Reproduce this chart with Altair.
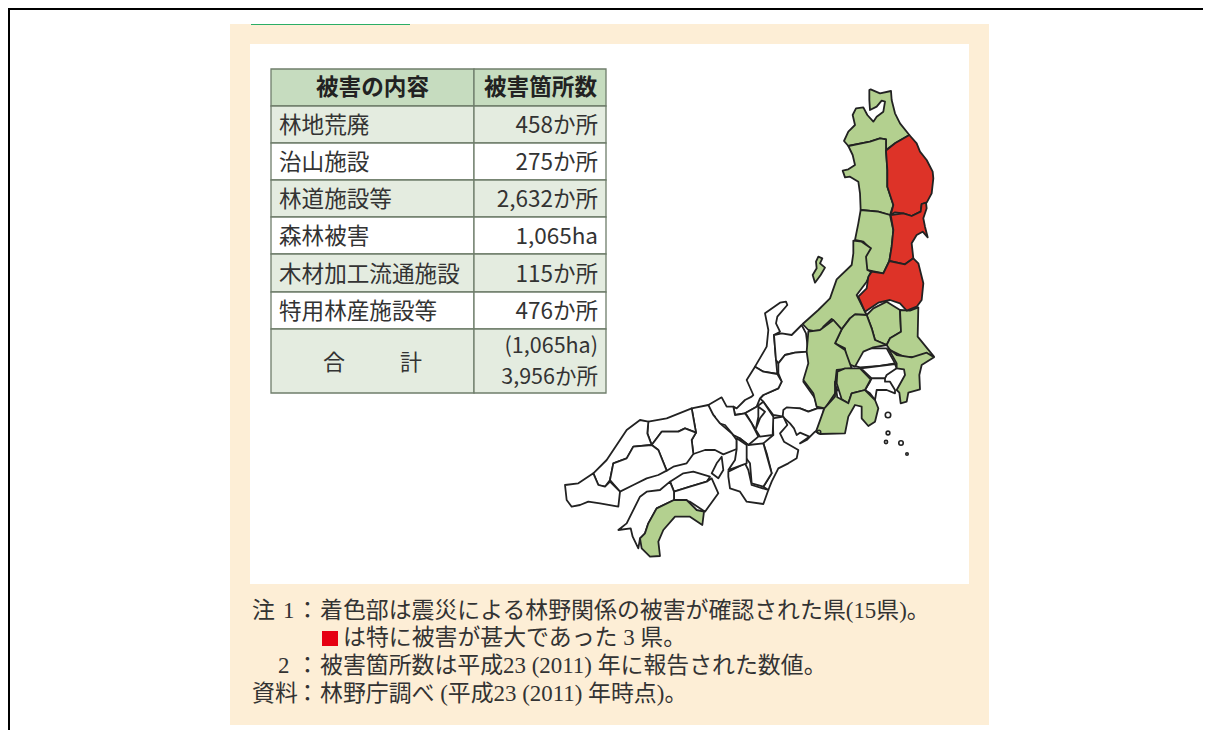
import altair as alt
import pandas as pd

W, H = 1195, 722
OFF = 8

# ---- table ----
header = ["被害の内容", "被害箇所数"]
items = ["林地荒廃", "治山施設", "林道施設等", "森林被害", "木材加工流通施設", "特用林産施設等"]
amounts = ["458か所", "275か所", "2,632か所", "1,065ha", "115か所", "476か所"]
total_label = ["合", "計"]
total_values = ["(1,065ha)", "3,956か所"]
row_edges = [69, 106, 143, 180, 217, 254, 292, 329, 393]
col_edges = [271, 474, 606]
row_fill = ["#c6dcbf", "#e4ece0", "#ffffff", "#e4ece0", "#ffffff", "#e4ece0", "#ffffff", "#e4ece0"]

# ---- notes ----
notes = [
    (252, 611, "注"), (283, 611, "1"), (296, 611, "："),
    (320, 611, "着色部は震災による林野関係の被害が確認された県(15県)。"),
    (343, 638, "は特に被害が甚大であった 3 県。"),
    (278, 666, "2"), (296, 666, "："),
    (320, 666, "被害箇所数は平成23 (2011) 年に報告された数値。"),
    (252, 694, "資料"), (296, 694, "："),
    (320, 694, "林野庁調べ (平成23 (2011) 年時点)。"),
]

# ---- map outlines (origin + 3x pixel readings) ----
G = (550, 80)
B = (790, 220)
C = (780, 340)
E = (700, 300)
F = (550, 300)

white = [
    ("Ishikawa", E, [258,5,240,8,195,40,205,90,200,140,165,200,190,215,232,222,228,180,222,105,240,95,228,70,232,50,262,15]),
    ("Toyama", E, [222,105,245,100,275,105,305,75,318,100,325,155,285,158,255,165,235,190,228,180]),
    ("Gifu", E, [235,190,255,165,285,158,325,155,328,205,310,245,345,295,352,325,325,335,300,325,260,325,250,350,220,345,190,305,180,295,190,285,235,265,245,245,235,220]),
    ("Fukui", E, [165,200,140,240,160,285,155,290,135,300,110,325,100,320,105,345,135,340,170,320,180,295,190,285,235,265,245,245,232,222,190,215]),
    ("Aichi", E, [250,330,260,322,300,325,325,335,352,325,372,325,362,385,345,395,320,420,300,430,328,410,300,398,290,405,282,385,270,370,248,350]),
    ("Mie", E, [250,350,262,375,240,400,252,425,295,450,290,475,265,490,235,505,215,545,205,570,190,560,215,520,200,460,190,430,220,405,218,355]),
    ("Shiga", E, [135,340,170,320,190,305,220,350,218,405,180,410,155,370,140,345]),
    ("Biwa", E, [175,320,195,335,180,355,168,385,175,350]),
    ("Kyoto", E, [25,315,65,292,80,320,100,320,105,345,135,340,155,370,175,410,145,435,120,415,100,405,75,375,40,365,45,350,30,335]),
    ("Nara", E, [145,435,190,430,215,520,190,560,155,550,150,490,135,470,120,415]),
    ("Wakayama", F, [535,515,585,490,595,510,605,555,655,570,640,612,590,605,570,575,540,565,535,530]),
    ("Hyogo", F, [425,325,475,315,490,345,510,370,545,400,560,420,560,447,520,463,495,450,465,450,430,462,425,420,438,398]),
    ("Awaji", F, [515,470,520,510,505,535,485,520,500,490]),
    ("Osaka", F, [560,415,590,435,590,490,535,510,555,480,560,447]),
    ("Tottori", F, [295,365,350,355,425,325,438,398,405,385,385,395,335,395,305,435,292,400]),
    ("Okayama", F, [305,435,335,395,385,395,405,385,438,398,425,420,430,462,410,490,370,500,350,512,325,450]),
    ("Shimane", F, [130,520,170,480,230,390,270,360,295,365,292,400,305,435,250,440,230,475,190,490,180,540,165,560,145,555]),
    ("Hiroshima", F, [180,540,190,490,230,475,250,440,305,435,325,450,350,512,325,525,290,535,250,555,210,575]),
    ("Yamaguchi", F, [45,555,50,600,65,620,90,615,115,605,150,610,205,620,210,575,180,545,165,560,145,555,130,520,85,550]),
    ("Kagawa", F, [360,545,400,520,430,515,480,530,470,545,420,560,372,575]),
    ("Tokushima", F, [372,575,420,560,470,545,485,535,505,580,465,635,420,605,372,600]),
    ("Ehime", F, [372,575,372,600,320,625,295,670,285,700,270,715,265,745,248,710,242,685,205,690,230,670,270,590,290,575,330,570,360,545]),
    ("Saitama", C, [215,75,240,45,250,25,320,25,345,70,300,78,240,82]),
    ("Tokyo", C, [243,85,345,72,350,85,320,105,315,115,275,115]),
    ("Kanagawa", C, [275,115,315,115,315,125,330,125,345,150,345,160,320,150,290,150,285,180,270,160,255,150,270,125]),
]
green = [
    ("Aomori", G, [958,30,962,28,990,40,1023,33,1025,60,1035,100,1050,130,1078,165,1035,190,1008,210,1008,178,990,175,960,185,895,198,882,183,895,155,915,135,908,105,918,85,940,82,952,105,970,125,980,110,1000,95,1005,65,995,62,980,80,960,90,958,60]),
    ("Akita", G, [895,198,960,185,990,175,1008,178,1008,210,1012,270,1012,320,1030,375,1020,405,985,395,932,390,930,340,925,305,900,290,885,292,878,272,895,268,915,255,908,225]),
    ("Yamagata", G, [932,390,985,395,1020,405,1030,450,1025,500,1018,543,1000,580,950,570,945,520,960,505,940,485,915,480,925,430]),
    ("Niigata", B, [190,62,215,65,243,85,228,110,232,150,243,155,230,185,200,225,230,285,195,283,180,295,155,328,125,297,100,320,90,337,55,330,38,312,85,270,120,235,140,178,185,135,190,100]),
    ("Sado", B, [85,110,97,115,90,130,105,143,92,165,75,188,68,165,80,145,78,125]),
    ("Tochigi", B, [230,285,250,265,290,245,330,270,333,335,300,355,290,375,255,360,245,325]),
    ("Ibaraki", B, [330,270,360,272,385,262,383,350,432,410,410,400,385,412,340,410,300,390,290,375,300,355,333,335]),
    ("Gunma", B, [230,285,245,325,255,360,290,375,250,382,220,395,195,440,170,430,165,385,135,370,155,328,180,295,195,283]),
    ("Chiba", C, [325,25,350,45,395,52,440,38,462,52,425,75,418,105,420,148,385,158,380,185,362,190,358,158,350,150,375,105,372,88,350,85,350,70]),
    ("Nagano", F, [775,95,810,90,850,60,875,88,855,130,885,150,905,205,860,210,855,255,862,270,825,325,800,320,790,280,760,240,775,190,770,155]),
    ("Yamanashi", C, [172,95,195,85,240,85,272,118,255,150,215,160,205,190,185,178,170,130]),
    ("Shizuoka", C, [165,125,172,172,205,190,215,160,255,150,270,165,285,180,295,205,285,245,265,258,245,235,245,200,225,195,205,230,195,280,120,282,108,275,133,205,165,170]),
    ("Kochi", F, [372,600,410,600,440,630,462,635,457,675,420,650,375,650,340,690,325,725,330,768,300,770,275,745,270,715,285,700,295,670,320,625]),
]
red = [
    ("Iwate", G, [1078,165,1100,190,1110,215,1130,240,1148,275,1150,295,1145,340,1130,368,1115,372,1112,395,1085,408,1060,400,1035,397,1022,405,1030,375,1012,320,1012,270,1008,212,1035,190]),
    ("Miyagi", G, [1022,405,1060,400,1085,408,1112,395,1115,372,1128,368,1130,385,1120,415,1125,440,1133,472,1118,455,1100,465,1085,490,1090,535,1065,553,1018,543,1025,500,1030,450]),
    ("Fukushima", G, [1018,543,1065,553,1090,535,1105,550,1120,610,1115,660,1100,680,1070,692,1050,670,1020,660,985,668,945,695,925,650,950,625,955,590,965,575,1000,580]),
]
islands_x = [888, 888, 886, 901, 907, 819]
islands_y = [415, 433, 442, 443, 454, 432]
islands_size = [30, 14, 10, 20, 6, 12]


def feature(origin, flat, kind):
    ox, oy = origin
    ring = [[ox + flat[i] / 3, oy + flat[i + 1] / 3] for i in range(0, len(flat), 2)]
    ring.append(ring[0])
    return {
        "type": "Feature",
        "properties": {"kind": kind},
        "geometry": {"type": "Polygon", "coordinates": [ring]},
    }


features = (
    [feature(o, f, "white") for _, o, f in white]
    + [feature(o, f, "green") for _, o, f in green]
    + [feature(o, f, "red") for _, o, f in red]
)

X = lambda f="x": alt.X(f"{f}:Q", scale=alt.Scale(domain=[OFF, OFF + W], nice=False, zero=False), axis=None)
Y = lambda f="y": alt.Y(f"{f}:Q", scale=alt.Scale(domain=[OFF + H, OFF], nice=False, zero=False), axis=None)

# backgrounds
boxes = pd.DataFrame(
    [
        dict(x=230, x2=989, y=24, y2=725, c="#fdeed6"),
        dict(x=250, x2=969, y=44, y2=584, c="#ffffff"),
        dict(x=251, x2=410, y=24, y2=25, c="#2bae66"),
        dict(x=322, x2=338, y=631, y2=646, c="#e60012"),
        dict(x=8, x2=1203, y=8, y2=10, c="#000000"),
        dict(x=8, x2=10, y=8, y2=730, c="#000000"),
    ]
)
bg = alt.Chart(boxes).mark_rect().encode(
    x=X(), x2="x2:Q", y=Y(), y2="y2:Q", color=alt.Color("c:N", scale=None)
)

# table cells
cells = []
for r in range(len(row_edges) - 1):
    for c in range(2):
        cells.append(dict(x=col_edges[c], x2=col_edges[c + 1], y=row_edges[r], y2=row_edges[r + 1], c=row_fill[r]))
cell_layer = alt.Chart(pd.DataFrame(cells)).mark_rect(stroke="#6f7d6b", strokeWidth=1.3).encode(
    x=X(), x2="x2:Q", y=Y(), y2="y2:Q", color=alt.Color("c:N", scale=None)
)

SANS = "Noto Sans CJK JP"
SERIF = "Liberation Serif, Noto Sans CJK JP"


def text_layer(rows, align, size, font=SANS, weight="normal", color="#333333"):
    return alt.Chart(pd.DataFrame(rows)).mark_text(
        align=align, baseline="middle", fontSize=size, font=font, fontWeight=weight, color=color
    ).encode(x=X(), y=Y(), text="t:N")


row_mid = [(row_edges[i] + row_edges[i + 1]) / 2 for i in range(len(row_edges) - 1)]
head_rows = [dict(x=372.5, y=row_mid[0], t=header[0]), dict(x=540.5, y=row_mid[0], t=header[1])]
item_rows = [dict(x=279, y=row_mid[i + 1] + 1.5, t=items[i]) for i in range(6)]
amount_rows = [dict(x=598, y=row_mid[i + 1] + 1.5, t=amounts[i]) for i in range(6)]
sum_rows = [dict(x=598, y=347, t=total_values[0]), dict(x=598, y=377.5, t=total_values[1])]
total_rows = [dict(x=334, y=363, t=total_label[0]), dict(x=411, y=363, t=total_label[1])]

note_rows = [dict(x=a, y=b, t=s) for a, b, s in notes]

map_layer = (
    alt.Chart(alt.Data(values=features))
    .mark_geoshape(stroke="#222222", strokeWidth=1.8, strokeJoin="round")
    .encode(
        color=alt.Color(
            "properties.kind:N",
            scale=alt.Scale(domain=["white", "green", "red"], range=["#ffffff", "#b3d08f", "#dd3328"]),
            legend=None,
        )
    )
    .project(type="identity", scale=1, translate=[-OFF, -OFF])
)

isl = alt.Chart(pd.DataFrame({"x": islands_x, "y": islands_y, "s": islands_size})).mark_point(
    shape="circle", filled=False, color="#222222", strokeWidth=1.6, opacity=1
).encode(x=X(), y=Y(), size=alt.Size("s:Q", scale=None, legend=None))

chart = alt.layer(
    bg,
    cell_layer,
    text_layer(head_rows, "center", 22.6, weight="bold", color="#222222"),
    text_layer(item_rows, "left", 22.6),
    text_layer(amount_rows, "right", 22.5),
    text_layer(sum_rows, "right", 21.5),
    text_layer(total_rows, "center", 22),
    text_layer(note_rows, "left", 22.9, font=SERIF),
    map_layer,
    isl,
).properties(width=W, height=H, padding=0, background="#ffffff").configure_view(stroke=None)

chart.save("out.html", embed_options={"renderer": "svg", "actions": False})
